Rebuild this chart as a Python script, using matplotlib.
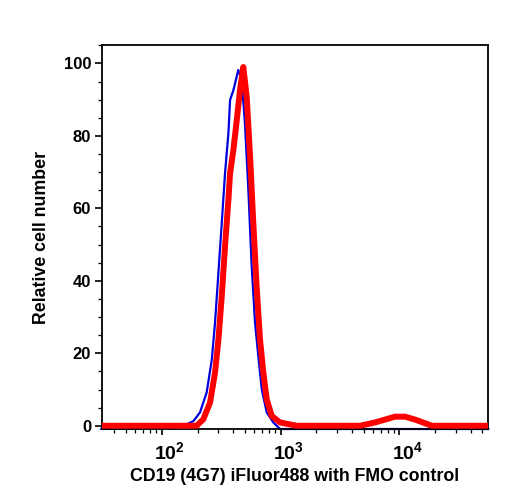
import matplotlib
matplotlib.use('Agg')
import matplotlib.pyplot as plt
import matplotlib.ticker as ticker
import matplotlib.transforms as mtransforms


plt.rcParams['font.family'] = ['Liberation Sans', 'DejaVu Sans']
plt.rcParams['font.weight'] = 'bold'
plt.rcParams['mathtext.fontset'] = 'custom'
plt.rcParams['mathtext.rm'] = 'Liberation Sans:bold'
plt.rcParams['mathtext.default'] = 'rm'

# FMO control (blue)
fmo_x = [31, 143, 185, 210, 239, 264, 281, 300, 320, 341, 364, 376, 401, 441,
	471, 502, 536, 572, 610, 650, 695, 765, 870, 990, 56000]
fmo_y = [-0.9, -0.5, 1.3, 3.7, 9.2, 18.3, 28.5, 42.2, 55.9, 69.7, 80.7, 89.9, 92.6, 98.2,
	95.4, 83.4, 65.1, 43.9, 28.5, 19.2, 10.1, 3.7, 0.9, -0.9, -0.9]

# CD19 stained (red)
cd19_x = [31, 197, 224, 255, 281, 300, 320, 341, 364, 376, 401, 428, 456, 486,
	519, 554, 590, 631, 672, 716, 765, 843, 990, 1370,
	4670, 6240, 7580, 9200, 11170, 13560, 16440, 18800, 56000]
cd19_y = [0, 0, 1.8, 6.4, 14.7, 23.8, 35.7, 49.5, 62.4, 69.7, 76.1, 84.3, 92.6, 99.0,
	90.8, 74.3, 55.9, 37.6, 23.8, 14.7, 7.3, 2.7, 0.9, 0,
	0, 0.9, 1.7, 2.5, 2.5, 1.7, 0.7, 0, 0]


fig = plt.figure(figsize = (5.08, 5.0), dpi = 100)
ax = fig.add_axes([0.2014, 0.142, 0.7587, 0.7674])

ax.plot(fmo_x, fmo_y, color = '#0000dd', lw = 1.6, zorder = 2, clip_on = False)
ax.plot(cd19_x, cd19_y, color = '#ff0000', lw = 4.3, solid_joinstyle = 'round', zorder = 3)

ax.set_xscale('log')
ax.set_xlim(31.6, 55500)
ax.set_ylim(-0.9, 105)

ax.xaxis.set_major_locator(ticker.FixedLocator([100, 1000, 10000]))
ax.xaxis.set_minor_locator(ticker.LogLocator(base = 10, subs = range(2, 10), numticks = 20))
ax.xaxis.set_major_formatter(ticker.FixedFormatter([r'$10^{2}$', r'$10^{3}$', r'$10^{4}$']))
ax.xaxis.set_minor_formatter(ticker.NullFormatter())
ax.yaxis.set_major_locator(ticker.MultipleLocator(20))
ax.yaxis.set_minor_locator(ticker.MultipleLocator(5))

ax.tick_params(axis = 'x', which = 'major', length = 4.5, width = 1.2, labelsize = 14, pad = 4)
ax.tick_params(axis = 'x', which = 'minor', length = 3, width = 0.9)
ax.tick_params(axis = 'y', which = 'major', length = 5, width = 1.2, labelsize = 12, pad = 3)
ax.tick_params(axis = 'y', which = 'minor', length = 3, width = 0.9)

for s in ax.spines.values():
	s.set_linewidth(1.3)

offset = mtransforms.ScaledTranslation(8 / 100, 0, fig.dpi_scale_trans)
for label in ax.get_xticklabels():
	label.set_transform(label.get_transform() + offset)

ax.set_xlabel('CD19 (4G7) iFluor488 with FMO control', fontsize = 12.8, fontweight = 'bold', labelpad = 4)
ax.set_ylabel('Relative cell number', fontsize = 12.8, fontweight = 'bold', labelpad = 10)

fig.savefig('out.png', dpi = 100)
